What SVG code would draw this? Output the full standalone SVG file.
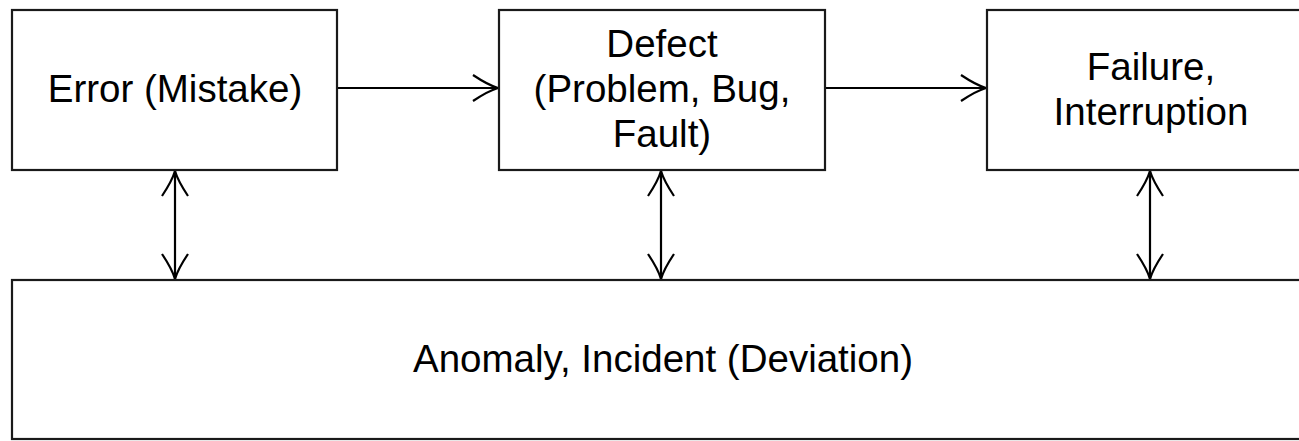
<svg xmlns="http://www.w3.org/2000/svg" width="1299" height="441" viewBox="0 0 1299 441">
  <style>
    .box { fill: #ffffff; stroke: #1a1a1a; stroke-width: 2.2; }
    .label { font-family: "Liberation Sans", Arial, sans-serif; font-size: 38.5px; fill: #000; text-anchor: middle; }
    .link { fill: none; stroke: #000; stroke-width: 2.2; }
  </style>
  <defs>
    <!-- open arrowhead with slightly curved arms, used on both ends of the links -->
    <marker id="vhead" viewBox="-26 -15 28 30" refX="0" refY="0" markerWidth="28" markerHeight="30" markerUnits="userSpaceOnUse" orient="auto-start-reverse">
      <path d="M -25 -13 Q -10 -3 0 0 Q -10 3 -25 13" fill="none" stroke="#000" stroke-width="2.2"/>
    </marker>
  </defs>

  <rect width="1299" height="441" fill="#ffffff"/>

  <g id="connectors">
    <line class="link" x1="337" y1="88" x2="498" y2="88" marker-end="url(#vhead)"/>
    <line class="link" x1="825" y1="88" x2="986" y2="88" marker-end="url(#vhead)"/>
    <line class="link" x1="175" y1="171" x2="175" y2="279" marker-start="url(#vhead)" marker-end="url(#vhead)"/>
    <line class="link" x1="661" y1="171" x2="661" y2="279" marker-start="url(#vhead)" marker-end="url(#vhead)"/>
    <line class="link" x1="1150" y1="171" x2="1150" y2="279" marker-start="url(#vhead)" marker-end="url(#vhead)"/>
  </g>

  <g id="error">
    <rect class="box" x="12" y="10" width="325" height="160"/>
    <text class="label" x="175" y="102">Error (Mistake)</text>
  </g>

  <g id="defect">
    <rect class="box" x="499" y="10" width="326" height="160"/>
    <text class="label" x="662" y="57">Defect</text>
    <text class="label" x="662" y="102">(Problem, Bug,</text>
    <text class="label" x="662" y="147">Fault)</text>
  </g>

  <g id="failure">
    <rect class="box" x="987" y="10" width="326" height="160"/>
    <text class="label" x="1151" y="80">Failure,</text>
    <text class="label" x="1151" y="125">Interruption</text>
  </g>

  <g id="anomaly">
    <rect class="box" x="12" y="280" width="1302" height="159"/>
    <text class="label" x="663" y="372">Anomaly, Incident (Deviation)</text>
  </g>
</svg>
